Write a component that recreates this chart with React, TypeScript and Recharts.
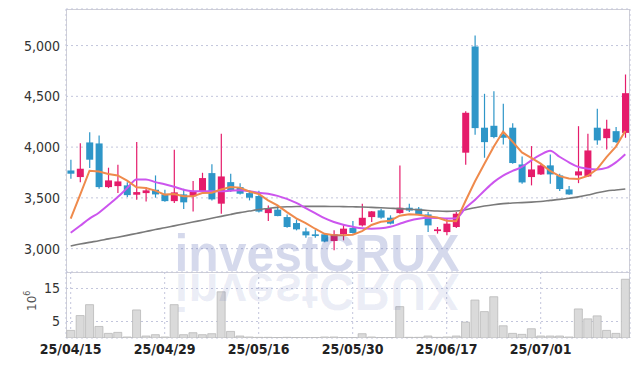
import React from "react";
import { ComposedChart, Bar, Line, XAxis, YAxis, CartesianGrid } from "recharts";

const dates = [
  "25/04/15", "25/04/16", "25/04/17", "25/04/18", "25/04/21", "25/04/22", "25/04/23", "25/04/24", "25/04/25", "25/04/28",
  "25/04/29", "25/04/30", "25/05/02", "25/05/07", "25/05/08", "25/05/09", "25/05/12", "25/05/13", "25/05/14", "25/05/15",
  "25/05/16", "25/05/19", "25/05/20", "25/05/21", "25/05/22", "25/05/23", "25/05/26", "25/05/27", "25/05/28", "25/05/29",
  "25/05/30", "25/06/02", "25/06/04", "25/06/05", "25/06/09", "25/06/10", "25/06/11", "25/06/12", "25/06/13", "25/06/16",
  "25/06/17", "25/06/18", "25/06/19", "25/06/20", "25/06/23", "25/06/24", "25/06/25", "25/06/26", "25/06/27", "25/06/30",
  "25/07/01", "25/07/02", "25/07/03", "25/07/04", "25/07/07", "25/07/08", "25/07/09", "25/07/10", "25/07/11", "25/07/14",
];

const opens = [
  3770, 3705, 4046, 4036, 3606, 3616, 3623, 3531, 3547, 3580,
  3534, 3468, 3534, 3515, 3564, 3744, 3443, 3655, 3606, 3547,
  3518, 3350, 3384, 3311, 3252, 3170, 3141, 3141, 3075, 3141,
  3203, 3229, 3311, 3377, 3305, 3350, 3403, 3394, 3337, 3173,
  3163, 3213, 3945, 4991, 4191, 4210, 4125, 4191, 3829, 3705,
  3731, 3820, 3721, 3583, 3721, 3711, 4191, 4088, 4157, 4140,
];
const highs = [
  3876, 4039, 4147, 4115, 3797, 3827, 3655, 4049, 3606, 3721,
  3580, 3974, 3590, 3665, 3747, 3830, 4132, 3737, 3645, 3574,
  3570, 3426, 3426, 3337, 3288, 3207, 3187, 3150, 3180, 3239,
  3272, 3443, 3370, 3394, 3328, 3820, 3443, 3410, 3360, 3213,
  3295, 3360, 4354, 5099, 4525, 4551, 4426, 4236, 3908, 4010,
  3830, 3928, 3738, 3616, 4206, 4132, 4377, 4269, 4197, 4715,
];
const lows = [
  3689, 3655, 3793, 3590, 3596, 3547, 3508, 3482, 3465, 3502,
  3462, 3449, 3390, 3367, 3557, 3475, 3344, 3557, 3534, 3475,
  3355, 3272, 3318, 3207, 3180, 3108, 3108, 3062, 2983, 3082,
  3148, 3219, 3262, 3295, 3239, 3344, 3360, 3328, 3163, 3148,
  3131, 3203, 3827, 4122, 3895, 4088, 4026, 3836, 3640, 3623,
  3725, 3640, 3567, 3530, 3645, 3705, 4023, 3977, 4040, 4092,
];
const closes = [
  3738, 3787, 3876, 3606, 3672, 3662, 3527, 3557, 3574, 3534,
  3468, 3554, 3456, 3564, 3695, 3485, 3711, 3574, 3541, 3502,
  3365, 3400, 3321, 3213, 3190, 3131, 3124, 3070, 3141, 3197,
  3154, 3304, 3367, 3305, 3246, 3403, 3375, 3335, 3229, 3190,
  3246, 3344, 4338, 4187, 4049, 4099, 4092, 3843, 3652, 3780,
  3820, 3731, 3587, 3534, 3761, 3967, 4066, 4181, 4049, 4531,
];

// moving averages
const ma5 = [
  3295, 3529, 3767, 3760, 3736, 3721, 3669, 3605, 3598, 3571,
  3532, 3537, 3517, 3515, 3547, 3551, 3582, 3606, 3601, 3563,
  3539, 3476, 3426, 3360, 3298, 3251, 3196, 3146, 3131, 3133,
  3137, 3173, 3233, 3265, 3275, 3325, 3339, 3333, 3318, 3306,
  3275, 3269, 3469, 3661, 3833, 4003, 4153, 4054, 3947, 3893,
  3837, 3765, 3714, 3690, 3687, 3716, 3783, 3902, 4005, 4159,
];
const ma20 = [
  3157, 3226, 3295, 3354, 3429, 3508, 3596, 3682, 3682, 3655,
  3635, 3610, 3580, 3566, 3564, 3564, 3566, 3570, 3574, 3565,
  3550, 3540, 3520, 3490, 3450, 3400, 3350, 3300, 3262, 3235,
  3215, 3200, 3197, 3200, 3215, 3245, 3275, 3295, 3304, 3303,
  3298, 3300, 3400, 3480, 3570, 3655, 3720, 3765, 3805, 3870,
  3925, 3965, 3905, 3850, 3805, 3787, 3780, 3795, 3850, 3930,
];
const ma60 = [
  3026, 3045, 3062, 3078, 3096, 3113, 3131, 3150, 3168, 3188,
  3205, 3224, 3243, 3262, 3280, 3299, 3318, 3337, 3355, 3370,
  3386, 3396, 3406, 3412, 3415, 3416, 3416, 3416, 3415, 3414,
  3412, 3410, 3406, 3402, 3398, 3394, 3388, 3382, 3376, 3370,
  3367, 3370, 3384, 3403, 3420, 3433, 3443, 3450, 3453, 3458,
  3465, 3475, 3485, 3497, 3510, 3528, 3550, 3568, 3578, 3588,
];
// volume in millions
const volumes = [
  2.3, 6.8, 10.1, 3.5, 1.4, 1.7, 0.3, 8.5, 0.6, 1.0,
  0.3, 10.1, 1.0, 1.6, 1.0, 1.3, 14.0, 2.0, 0.6, 0.3,
  0.2, 0.2, 0.15, 0.2, 0.15, 0.1, 0.1, 0.3, 0.3, 0.1,
  0.1, 1.3, 0.3, 0.1, 0.1, 9.5, 0.2, 0.2, 0.6, 0.2,
  0.3, 0.6, 4.8, 11.5, 8.0, 12.5, 3.7, 1.4, 1.1, 2.8,
  0.6, 0.6, 0.6, 0.3, 8.8, 5.8, 6.7, 2.3, 1.4, 17.8,
];

const priceTicks = [3000, 3500, 4000, 4500, 5000];
const volumeTicks = [5, 10, 15];

const rows = dates.map((date, i) => ({
  date,
  open: opens[i],
  high: highs[i],
  low: lows[i],
  close: closes[i],
  ma5: ma5[i],
  ma20: ma20[i],
  ma60: ma60[i],
  volume: volumes[i],
}));

const UP = "#e51c6b";
const DOWN = "#2e96c8";
const GRID = "#c3c6dc";
const FRAME = "#cfcfd6";
const tickFont = { fontFamily: "'Liberation Sans Narrow', 'DejaVu Sans Condensed', sans-serif", fontSize: 14, fill: "#333" };

function Candle(props: any) {
  const { x, y, width, height, payload } = props;
  const { open, close, high, low } = payload;
  const top0 = Math.min(y, y + height);
  const h = Math.abs(height);
  const span = high - low || 1;
  const py = (v: number) => top0 + ((high - v) / span) * h;
  const color = close >= open ? UP : DOWN;
  const bTop = py(Math.max(open, close));
  const bBot = py(Math.min(open, close));
  const cx = x + width / 2;
  return (
    <g>
      <line x1={cx} x2={cx} y1={top0} y2={top0 + h} stroke={color} strokeWidth={1.2} />
      <rect x={x} y={bTop} width={width} height={Math.max(bBot - bTop, 1.5)} fill={color} />
    </g>
  );
}

export default function App() {
  return (
    <div style={{ position: "absolute", left: 0, top: 0, width: 639, height: 366, background: "#fff" }}>
      <div style={{ position: "absolute", left: 66, top: 9, width: 564, height: 329, border: `1px solid ${FRAME}`, boxSizing: "border-box" }} />
      <div style={{ position: "absolute", left: 66, top: 272, width: 564, height: 1, background: FRAME }} />
      <ComposedChart
        width={639}
        height={272}
        data={rows}
        margin={{ top: 9, right: 9, bottom: 0, left: 0 }}
        barCategoryGap="15%"
        style={{ position: "absolute", left: 0, top: 0 }}
      >
        <CartesianGrid stroke={GRID} strokeDasharray="2 3" />
        <XAxis dataKey="date" interval={9} height={0} tick={false} axisLine={false} tickLine={false} />
        <YAxis
          width={66}
          domain={[2770, 5360]}
          ticks={priceTicks}
          allowDataOverflow
          axisLine={false}
          tickLine={false}
          tickMargin={0}
          tick={tickFont}
          tickFormatter={(v: number) => v.toLocaleString("en-US")}
        />
        <Bar dataKey={(d: any) => [d.low, d.high]} shape={<Candle />} isAnimationActive={false} />
        <Line type="monotone" dataKey="ma60" stroke="#7a7a7a" strokeWidth={1.6} dot={false} activeDot={false} isAnimationActive={false} />
        <Line type="monotone" dataKey="ma20" stroke="#cc55ee" strokeWidth={2} dot={false} activeDot={false} isAnimationActive={false} />
        <Line type="linear" dataKey="ma5" stroke="#ef8a4c" strokeWidth={2} dot={false} activeDot={false} isAnimationActive={false} />
      </ComposedChart>
      <ComposedChart
        width={639}
        height={94}
        data={rows}
        margin={{ top: 0, right: 9, bottom: 0, left: 0 }}
        barCategoryGap="8%"
        style={{ position: "absolute", left: 0, top: 272 }}
      >
        <CartesianGrid stroke={GRID} strokeDasharray="2 3" />
        <XAxis
          dataKey="date"
          interval={9}
          height={28}
          axisLine={false}
          tickLine={false}
          tickMargin={0}
          tick={{ ...tickFont, fill: "#222", fontWeight: "bold" }}
        />
        <YAxis
          width={66}
          domain={[0, 20]}
          ticks={volumeTicks}
          allowDataOverflow
          axisLine={false}
          tickLine={false}
          tickMargin={0}
          tick={tickFont}
        />
        <Bar dataKey="volume" fill="#dadada" stroke="#b9b9b9" strokeWidth={0.8} isAnimationActive={false} />
      </ComposedChart>
      <svg width={639} height={366} style={{ position: "absolute", left: 0, top: 0, pointerEvents: "none" }}>
        <text
          x={317}
          y={271}
          textAnchor="middle"
          textLength={285}
          lengthAdjust="spacingAndGlyphs"
          fontFamily="'Liberation Sans', Arial, sans-serif"
          fontWeight="bold"
          fontSize={52}
          fill="#2c40a0"
          fillOpacity={0.2}
        >
          investCRUX
        </text>
        <g transform="translate(0,545) scale(1,-1)">
          <text
            x={317}
            y={271}
            textAnchor="middle"
            textLength={285}
            lengthAdjust="spacingAndGlyphs"
            fontFamily="'Liberation Sans', Arial, sans-serif"
            fontWeight="bold"
            fontSize={52}
            fill="#2c40a0"
            fillOpacity={0.09}
          >
            investCRUX
          </text>
        </g>
        <text
          transform="rotate(-90 36 311)"
          x={36}
          y={311}
          fontFamily="'DejaVu Sans', sans-serif"
          fontSize={12}
          fill="#555"
        >
          10
          <tspan fontSize={8} dy={-6}>6</tspan>
        </text>
      </svg>
    </div>
  );
}
